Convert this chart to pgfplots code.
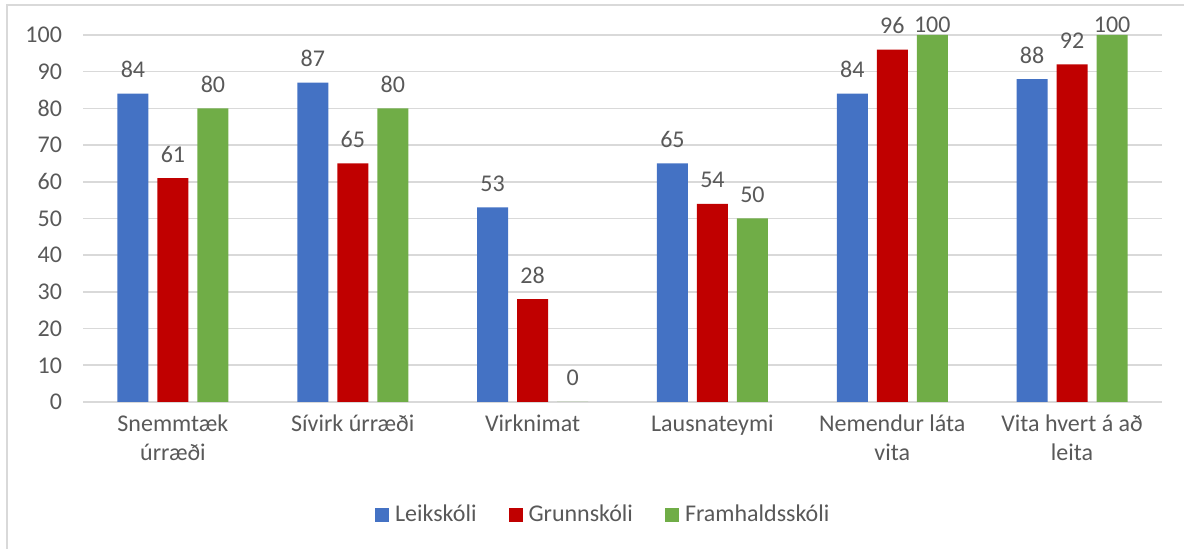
\documentclass[border=0pt]{standalone}
\usepackage{fontspec}
\setmainfont{Carlito}
\usepackage{pgfplots}
\pgfplotsset{compat=1.18}
\usetikzlibrary{calc}

\definecolor{cblue}{HTML}{4472C4}
\definecolor{cred}{HTML}{C00000}
\definecolor{cgreen}{HTML}{70AD47}
\definecolor{txtgray}{HTML}{595959}
\definecolor{gridgray}{HTML}{D9D9D9}

\begin{document}
\begin{tikzpicture}
\begin{axis}[
    scale only axis,
    width=539.5pt, height=183.5pt,
    clip=false,
    ybar=4.5pt, bar width=15.5pt,
    xmin=-0.5, xmax=5.5,
    ymin=0, ymax=100,
    ytick={0,10,...,100},
    xtick={0,...,5},
    xticklabels={{Snemmtæk\\úrræði},{Sívirk úrræði},Virknimat,Lausnateymi,{Nemendur láta\\vita},{Vita hvert á að\\leita}},
    axis line style={draw=none},
    major tick length=0pt,
    ymajorgrids,
    grid style={draw=gridgray, line width=0.8pt},
    tick label style={font=\fontsize{12}{14.6}\selectfont, text=txtgray},
    yticklabel style={xshift=-7pt},
    xticklabel style={align=center, yshift=-3pt},
    /pgf/number format/assume math mode=true,
    visualization depends on={y \as \rawy},
    nodes near coords,
    nodes near coords style={font=\fontsize{12}{14.6}\selectfont, text=txtgray, anchor=center,
        yshift={min(12pt,(102.72-\rawy)*1.835pt)}},
    legend style={at={(0.484,-0.308)}, anchor=center, draw=none, legend columns=3,
        font=\fontsize{12}{14.6}\selectfont, text=txtgray,
        /tikz/every even column/.append style={column sep=13pt},
        nodes={inner xsep=3pt, inner ysep=1.5pt}},
    legend image code/.code={\fill[#1] (0pt,-3.5pt) rectangle (7pt,3.5pt);},
]
\addplot[fill=cblue, draw=none] coordinates {(0,84) (1,87) (2,53) (3,65) (4,84) (5,88)};
\addplot[fill=cred, draw=none] coordinates {(0,61) (1,65) (2,28) (3,54) (4,96) (5,92)};
\addplot[fill=cgreen, draw=none] coordinates {(0,80) (1,80) (2,0) (3,50) (4,100) (5,100)};
\legend{Leikskóli,Grunnskóli,Framhaldsskóli}
\end{axis}
\draw[gridgray, line width=1pt] ($(current axis.south west)+(-38pt,-90pt)$) -- ($(current axis.north west)+(-38pt,15pt)$) -- ($(current axis.north east)+(40pt,15pt)$);
\pgfresetboundingbox
\path[use as bounding box] ($(current axis.south west)+(-41.5pt,-73.5pt)$) rectangle ($(current axis.north east)+(11pt,17.5pt)$);
\end{tikzpicture}
\end{document}
